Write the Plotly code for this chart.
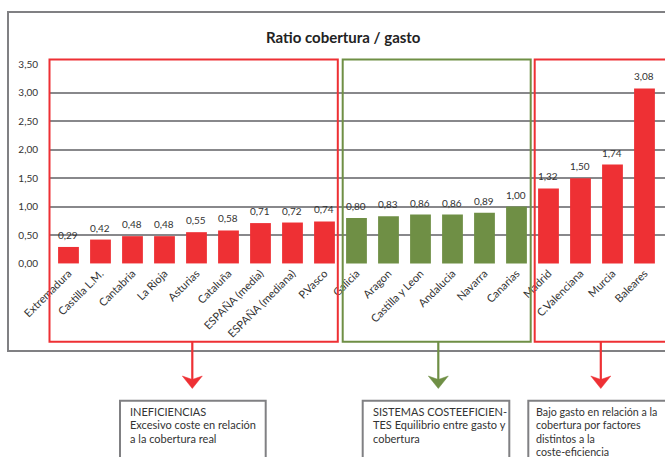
import plotly.graph_objects as go

# ---- data ----
categories = ["Extremadura", "Castilla L.M.", "Cantabria", "La Rioja", "Asturias",
              "Cataluña", "ESPAÑA (media)", "ESPAÑA (mediana)", "P.Vasco",
              "Galicia", "Aragon", "Castilla y Leon", "Andalucia", "Navarra", "Canarias",
              "Madrid", "C.Valenciana", "Murcia", "Baleares"]
ratios = [0.29, 0.42, 0.48, 0.48, 0.55, 0.58, 0.71, 0.72, 0.74,
          0.80, 0.83, 0.86, 0.86, 0.89, 1.00,
          1.32, 1.50, 1.74, 3.08]
groups = ["ineficiencia"] * 9 + ["costeeficiente"] * 6 + ["bajo_gasto"] * 4
y_ticks = [0, 0.5, 1.0, 1.5, 2.0, 2.5, 3.0, 3.5]
title_text = "Ratio cobertura / gasto"
box_texts = [
    ["INEFICIENCIAS", "Excesivo coste en relación", "a la cobertura real"],
    ["SISTEMAS COSTEEFICIEN-", "TES Equilibrio entre gasto y", "cobertura"],
    ["Bajo gasto en relación a la", "cobertura por factores", "distintos a la", "coste-eficiencia"],
]

RED = "#ee3034"
GREEN = "#6f8f45"
GREY = "#808083"
TXT = "#333333"
FONT = "Lato"

W, H = 665, 457
L, R, T, B = 49, 665, 64, 264  # plot area in px


def fx(px):
    return (px - L) / (R - L)


def fy(py):
    return (B - py) / (B - T)


def fmt(v):
    return f"{v:.2f}".replace(".", ",")


colors = [GREEN if g == "costeeficiente" else RED for g in groups]
xs = list(range(len(categories)))

fig = go.Figure()
fig.add_trace(go.Bar(x=xs, y=ratios, marker=dict(color=colors, line=dict(width=0)),
                     width=0.65, hoverinfo="skip"))

annotations = []
for i, v in enumerate(ratios):
    annotations.append(dict(x=i, y=v, xref="x", yref="y", text=fmt(v), showarrow=False,
                            yanchor="bottom", yshift=4, font=dict(size=10, color=TXT, family=FONT)))

annotations.append(dict(x=fx(343), y=fy(37), xref="paper", yref="paper", text="<b>" + title_text + "</b>",
                        showarrow=False, xanchor="center", yanchor="middle",
                        font=dict(size=15, color="#222222", family=FONT)))

shapes = []
# outer frame
shapes.append(dict(type="rect", xref="paper", yref="paper", x0=fx(8), x1=fx(690), y0=fy(12), y1=fy(351),
                   line=dict(color=GREY, width=2)))
# group boxes
box_specs = [(49.5, 337.8, RED), (342.7, 530.7, GREEN), (534.7, 690, RED)]
for x0, x1, c in box_specs:
    shapes.append(dict(type="rect", xref="paper", yref="paper", x0=fx(x0), x1=fx(x1), y0=fy(59.5), y1=fy(341.7),
                       line=dict(color=c, width=2)))
# connectors + arrowheads
conn = [(192.3, RED), (438.3, GREEN), (600.8, RED)]
for cx, c in conn:
    shapes.append(dict(type="line", xref="paper", yref="paper", x0=fx(cx), x1=fx(cx), y0=fy(341.7), y1=fy(380),
                       line=dict(color=c, width=2.2)))
    path = (f"M {fx(cx)},{fy(388.5)} L {fx(cx - 10)},{fy(376)} L {fx(cx)},{fy(379.5)} "
            f"L {fx(cx + 10)},{fy(376)} Z")
    shapes.append(dict(type="path", xref="paper", yref="paper", path=path, fillcolor=c,
                       line=dict(color=c, width=0.5)))
# text boxes
tb = [(120, 265.7, 128, 11), (362.7, 509.3, 370.7, 11), (528.3, 690, 534, 10.7)]
for (x0, x1, tx, fs), lines in zip(tb, box_texts):
    shapes.append(dict(type="rect", xref="paper", yref="paper", x0=fx(x0), x1=fx(x1), y0=fy(400.7), y1=fy(480),
                       line=dict(color=GREY, width=2)))
    for k, ln in enumerate(lines):
        annotations.append(dict(x=fx(tx), y=fy(411 + 13.5 * k), xref="paper", yref="paper", text=ln,
                                showarrow=False, xanchor="left", yanchor="middle",
                                font=dict(size=fs, color=TXT, family=FONT)))

fig.update_layout(
    width=W, height=H,
    margin=dict(l=L, r=W - R, t=T, b=H - B, pad=0),
    paper_bgcolor="white", plot_bgcolor="white",
    showlegend=False,
    bargap=0.35,
    font=dict(family=FONT, color=TXT),
    xaxis=dict(range=[-0.609, -0.609 + (R - L) / 32], tickmode="array", tickvals=xs, ticktext=categories,
               tickangle=-45, showgrid=False, zeroline=False, showline=False, ticks="",
               tickfont=dict(size=11, color=TXT, family=FONT), fixedrange=True),
    yaxis=dict(range=[-0.01, 3.51], tickmode="array", tickvals=y_ticks,
               ticktext=[fmt(t) for t in y_ticks], showgrid=True, gridcolor="#88888b", gridwidth=1.6,
               zeroline=False, showline=False, ticks="", ticklabelstandoff=10,
               tickfont=dict(size=10, color=TXT, family=FONT), fixedrange=True),
    shapes=shapes,
    annotations=annotations,
)

fig.write_html("out.html", config={"displayModeBar": False},
               post_script="document.body.style.margin='0';document.body.style.overflow='hidden';")
